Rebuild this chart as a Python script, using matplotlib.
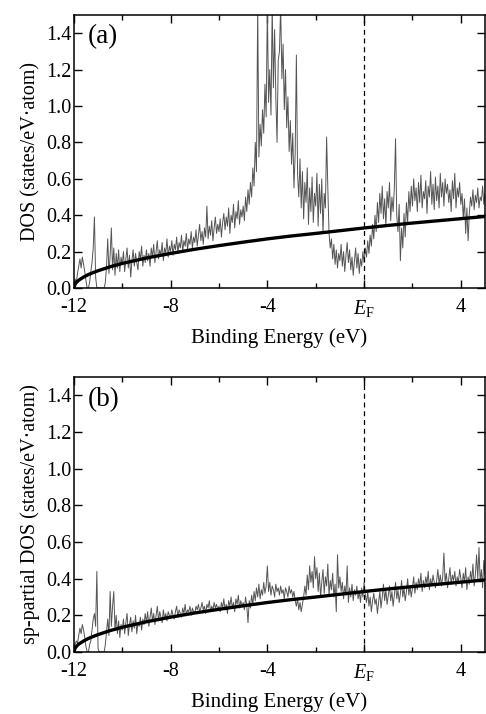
import numpy as np
import matplotlib
matplotlib.use("Agg")
from matplotlib import pyplot as plt

plt.rcParams['font.family'] = ['Liberation Serif', 'DejaVu Serif']
plt.rcParams['mathtext.fontset'] = 'custom'
plt.rcParams['mathtext.rm'] = 'Liberation Serif'
plt.rcParams['mathtext.it'] = 'Liberation Serif:italic'
plt.rcParams['axes.unicode_minus'] = False

# energy grid of the calculated DOS (eV), 0.05 eV step
energy = np.arange(-12.0, 5.0001, 0.05)

# total DOS, panel (a)
dos_total = [
    0.02, 0.05, 0.03, 0.08, 0.12, 0.16, 0.11, 0.17, 0.13, 0.09, 0.04, 0.00, 0.00, 0.03, 0.09, 0.14, 0.22, 0.39, 0.06, 0.00,
    0.00, 0.00, 0.00, 0.00, 0.00, 0.00, 0.03, 0.12, 0.27, 0.08, 0.18, 0.33, 0.10, 0.22, 0.07, 0.19, 0.11, 0.21, 0.09, 0.17,
    0.13, 0.20, 0.09, 0.16, 0.22, 0.11, 0.18, 0.06, 0.15, 0.21, 0.12, 0.19, 0.14, 0.10, 0.20, 0.16, 0.23, 0.12, 0.18, 0.14,
    0.21, 0.15, 0.19, 0.12, 0.22, 0.17, 0.24, 0.14, 0.20, 0.26, 0.16, 0.21, 0.18, 0.25, 0.15, 0.22, 0.19, 0.27, 0.17, 0.23,
    0.20, 0.26, 0.18, 0.24, 0.21, 0.28, 0.19, 0.25, 0.22, 0.29, 0.20, 0.26, 0.23, 0.30, 0.21, 0.27, 0.24, 0.31, 0.22, 0.28,
    0.25, 0.32, 0.23, 0.29, 0.35, 0.26, 0.31, 0.24, 0.33, 0.28, 0.45, 0.27, 0.34, 0.29, 0.37, 0.26, 0.33, 0.39, 0.30, 0.35,
    0.31, 0.38, 0.28, 0.36, 0.41, 0.32, 0.39, 0.34, 0.44, 0.30, 0.40, 0.36, 0.46, 0.33, 0.42, 0.38, 0.48, 0.35, 0.43, 0.39,
    0.45, 0.37, 0.50, 0.42, 0.54, 0.46, 0.58, 0.50, 0.66, 0.56, 0.80, 0.64, 1.55, 0.72, 0.90, 0.78, 0.98, 0.85, 1.12, 0.94,
    1.55, 1.02, 1.20, 0.95, 1.55, 1.10, 1.42, 1.05, 0.80, 1.25, 1.30, 1.55, 1.15, 1.34, 0.98, 1.20, 0.88, 1.05, 0.75, 0.92,
    0.68, 0.85, 0.55, 0.74, 1.28, 0.62, 0.50, 0.71, 0.44, 0.64, 0.38, 0.58, 0.47, 0.66, 0.35, 0.55, 0.42, 0.61, 0.36, 0.52,
    0.45, 0.63, 0.34, 0.57, 0.41, 0.60, 0.30, 0.52, 0.44, 0.83, 0.55, 0.30, 0.22, 0.27, 0.16, 0.24, 0.13, 0.21, 0.11, 0.19,
    0.15, 0.24, 0.12, 0.20, 0.09, 0.18, 0.25, 0.14, 0.21, 0.10, 0.17, 0.07, 0.15, 0.22, 0.11, 0.19, 0.08, 0.16, 0.12, 0.20,
    0.14, 0.22, 0.17, 0.26, 0.19, 0.29, 0.23, 0.35, 0.27, 0.40, 0.31, 0.47, 0.36, 0.52, 0.41, 0.56, 0.38, 0.49, 0.34, 0.53,
    0.44, 0.58, 0.37, 0.50, 0.42, 0.55, 0.82, 0.40, 0.31, 0.46, 0.15, 0.33, 0.22, 0.41, 0.28, 0.47, 0.36, 0.53, 0.42, 0.56,
    0.45, 0.60, 0.48, 0.55, 0.42, 0.58, 0.47, 0.62, 0.44, 0.53, 0.49, 0.59, 0.41, 0.56, 0.50, 0.64, 0.46, 0.57, 0.43, 0.61,
    0.48, 0.56, 0.44, 0.63, 0.50, 0.58, 0.45, 0.60, 0.52, 0.57, 0.47, 0.54, 0.42, 0.59, 0.49, 0.63, 0.44, 0.55, 0.50, 0.58,
    0.46, 0.52, 0.38, 0.49, 0.30, 0.44, 0.26, 0.41, 0.50, 0.45, 0.54, 0.43, 0.51, 0.47, 0.55, 0.44, 0.50, 0.48, 0.56, 0.46,
    0.52,
]

# sp-partial DOS, panel (b)
dos_sp = [
    0.02, 0.04, 0.06, 0.05, 0.09, 0.13, 0.10, 0.15, 0.12, 0.08, 0.03, 0.00, 0.00, 0.04, 0.06, 0.12, 0.18, 0.21, 0.14, 0.44,
    0.02, 0.00, 0.00, 0.00, 0.00, 0.00, 0.04, 0.11, 0.18, 0.09, 0.33, 0.14, 0.25, 0.33, 0.12, 0.20, 0.10, 0.17, 0.08, 0.15,
    0.12, 0.18, 0.10, 0.16, 0.21, 0.09, 0.15, 0.19, 0.11, 0.17, 0.13, 0.20, 0.10, 0.16, 0.14, 0.19, 0.12, 0.18, 0.15, 0.21,
    0.16, 0.22, 0.14, 0.19, 0.24, 0.17, 0.21, 0.15, 0.20, 0.25, 0.17, 0.22, 0.19, 0.16, 0.23, 0.18, 0.21, 0.17, 0.22, 0.20,
    0.19, 0.23, 0.20, 0.18, 0.22, 0.25, 0.19, 0.23, 0.21, 0.19, 0.24, 0.21, 0.26, 0.20, 0.23, 0.22, 0.25, 0.20, 0.24, 0.22,
    0.21, 0.25, 0.23, 0.26, 0.22, 0.24, 0.27, 0.23, 0.25, 0.21, 0.26, 0.24, 0.28, 0.22, 0.25, 0.23, 0.27, 0.24, 0.26, 0.23,
    0.25, 0.22, 0.27, 0.24, 0.29, 0.23, 0.26, 0.21, 0.28, 0.25, 0.30, 0.24, 0.27, 0.22, 0.29, 0.26, 0.31, 0.24, 0.28, 0.25,
    0.27, 0.23, 0.30, 0.25, 0.16, 0.28, 0.24, 0.31, 0.26, 0.33, 0.28, 0.35, 0.30, 0.37, 0.29, 0.34, 0.31, 0.38, 0.32, 0.36,
    0.47, 0.33, 0.38, 0.31, 0.36, 0.34, 0.30, 0.37, 0.33, 0.35, 0.31, 0.36, 0.32, 0.34, 0.29, 0.35, 0.33, 0.30, 0.36, 0.32,
    0.34, 0.30, 0.33, 0.28, 0.25, 0.29, 0.23, 0.27, 0.22, 0.26, 0.30, 0.36, 0.31, 0.42, 0.34, 0.47, 0.38, 0.44, 0.35, 0.52,
    0.40, 0.46, 0.33, 0.43, 0.30, 0.38, 0.45, 0.32, 0.41, 0.36, 0.48, 0.31, 0.39, 0.34, 0.43, 0.30, 0.37, 0.22, 0.53, 0.35,
    0.41, 0.33, 0.38, 0.29, 0.36, 0.31, 0.47, 0.27, 0.35, 0.30, 0.37, 0.28, 0.34, 0.31, 0.36, 0.29, 0.33, 0.27, 0.35, 0.30,
    0.38, 0.31, 0.27, 0.33, 0.25, 0.30, 0.22, 0.28, 0.32, 0.26, 0.29, 0.21, 0.27, 0.33, 0.24, 0.30, 0.37, 0.28, 0.34, 0.26,
    0.31, 0.36, 0.28, 0.33, 0.25, 0.31, 0.38, 0.29, 0.34, 0.27, 0.32, 0.39, 0.30, 0.35, 0.28, 0.33, 0.40, 0.31, 0.36, 0.30,
    0.35, 0.41, 0.32, 0.38, 0.34, 0.40, 0.36, 0.43, 0.33, 0.39, 0.35, 0.41, 0.37, 0.44, 0.34, 0.40, 0.36, 0.42, 0.38, 0.35,
    0.39, 0.45, 0.37, 0.42, 0.36, 0.41, 0.54, 0.38, 0.43, 0.35, 0.40, 0.46, 0.37, 0.42, 0.39, 0.44, 0.36, 0.41, 0.38, 0.45,
    0.40, 0.35, 0.43, 0.38, 0.46, 0.34, 0.41, 0.37, 0.44, 0.39, 0.48, 0.36, 0.42, 0.53, 0.40, 0.57, 0.38, 0.45, 0.35, 0.50,
    0.42,
]

# free-electron reference curve (thick black line)
fe_energy = [-12, -11.95, -11.9, -11.8, -11.6, -11.4, -11.2, -11, -10.5, -10, -9, -8, -7,
             -6, -5, -4, -3, -2, -1, 0, 1, 2, 3, 4, 5]
fe_dos = [0.0, 0.021, 0.030, 0.043, 0.060, 0.074, 0.085, 0.095, 0.117, 0.135, 0.165, 0.19, 0.213,
          0.233, 0.252, 0.27, 0.286, 0.30, 0.315, 0.33, 0.344, 0.357, 0.369, 0.381, 0.393]

xticks = [-12, -8, -4, 0, 4]
xticklabels = ['-12', '-8', '-4', r'$E_{\mathrm{F}}$', '4']
yticks = [0.0, 0.2, 0.4, 0.6, 0.8, 1.0, 1.2, 1.4]

panels = [('(a)', dos_total, 'DOS (states/eV\u00b7atom)'),
          ('(b)', dos_sp, 'sp-partial DOS (states/eV\u00b7atom)')]
boxes = [[0.152, 0.5966, 0.846, 0.3824], [0.152, 0.0868, 0.846, 0.3852]]

fig = plt.figure(figsize=(4.86, 7.14), dpi=100)

for (tag, dos, ylab), box in zip(panels, boxes):
    ax = fig.add_axes(box)
    ax.plot(energy, dos, color='#555555', lw=0.7)
    ax.plot(fe_energy, fe_dos, color='black', lw=2.4, solid_capstyle='butt')
    ax.axvline(0, color='black', lw=0.9, ls=(0, (4, 3)))
    ax.set_xlim(-12, 5)
    ax.set_ylim(0, 1.5)
    ax.set_xticks(xticks)
    ax.set_xticklabels(xticklabels)
    ax.set_xticks([-10, -6, -2, 2], minor=True)
    ax.set_yticks(yticks)
    ax.set_yticklabels(['%.1f' % v for v in yticks])
    ax.tick_params(which='both', direction='in', top=True, right=True, labelsize=14.5)
    ax.tick_params(which='major', length=6, width=1)
    ax.tick_params(which='minor', length=3.5, width=1)
    ax.tick_params(axis='x', pad=7)
    ax.tick_params(axis='y', pad=2)
    for s in ax.spines.values():
        s.set_linewidth(1.1)
    ax.set_xlabel('Binding Energy (eV)', fontsize=15, labelpad=7)
    ax.set_ylabel(ylab, fontsize=14.5, labelpad=4)
    ax.text(0.034, 0.965, tag, transform=ax.transAxes, fontsize=19.5, va='top', ha='left')

fig.savefig('out.png', dpi=100)
